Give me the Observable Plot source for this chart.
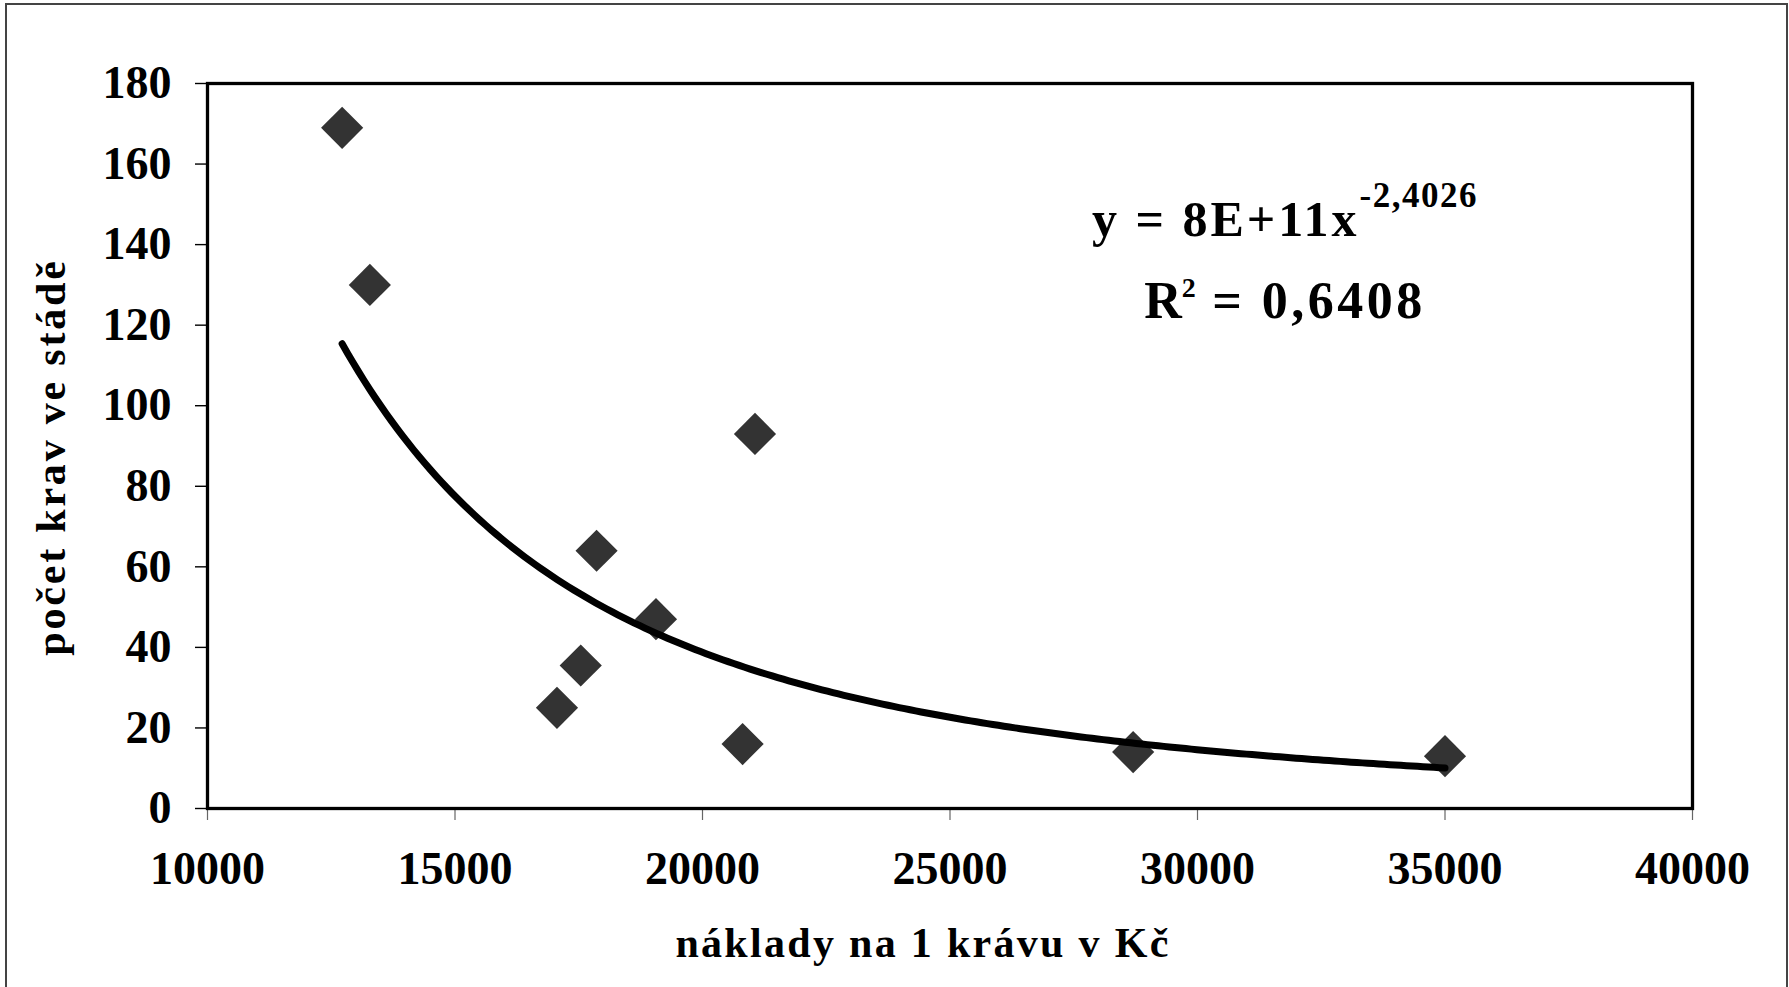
<!DOCTYPE html>
<html>
<head>
<meta charset="utf-8">
<script src="https://cdn.jsdelivr.net/npm/d3@7"></script>
<script src="https://cdn.jsdelivr.net/npm/@observablehq/plot@0.6"></script>
<style>
  html, body { margin: 0; padding: 0; background: #fff; overflow: hidden; }
  #chart svg { display: block; }
</style>
</head>
<body>
<div id="chart"></div>
<script>
// ---- data ----
const costs = [12720, 13280, 21060, 17860, 19060, 17540, 17060, 20810, 28700, 35000];
const herdSize = [169, 130, 93, 64, 47, 35.5, 25, 16, 14, 13];
const xTicks = [10000, 15000, 20000, 25000, 30000, 35000, 40000];
const yTicks = [0, 20, 40, 60, 80, 100, 120, 140, 160, 180];
const xTitle = "náklady na 1 krávu v Kč";
const yTitle = "počet krav ve stádě";
const eqMain = "y = 8E+11x";
const eqExp = "-2,4026";
const r2Base = "R";
const r2Exp = "2";
const r2Value = " = 0,6408";

// ---- derived ----
const points = costs.map((x, i) => ({x, y: herdSize[i]}));
// power trendline y = A x^b, least squares on logs (as the spreadsheet does)
const lx = costs.map(Math.log), ly = herdSize.map(Math.log);
const mx = d3.mean(lx), my = d3.mean(ly);
const b = d3.sum(lx, (v, i) => (v - mx) * (ly[i] - my)) / d3.sum(lx, v => (v - mx) ** 2);
const a = my - b * mx;
const [xMin, xMax] = d3.extent(costs);
const trend = d3.range(0, 201).map(k => {
  const x = xMin + (xMax - xMin) * k / 200;
  return {x, y: Math.exp(a + b * Math.log(x))};
});

const W = 1789, H = 987;
const font = "'Liberation Serif', 'Times New Roman', serif";

const svg = Plot.plot({
  width: W,
  height: H,
  marginLeft: 207,
  marginRight: 97,
  marginTop: 83,
  marginBottom: 179,
  style: {fontFamily: font, fontSize: "46px", fontWeight: "bold", background: "#fff", color: "#000", overflow: "visible"},
  x: {domain: [10000, 40000], label: null},
  y: {domain: [0, 180], label: null},
  marks: [
    Plot.axisX({ticks: xTicks, tickSize: 12, tickPadding: 31, tickFormat: d => String(d), stroke: "#666", strokeWidth: 1.2, fill: "#000", label: null}),
    Plot.axisY({ticks: yTicks, tickSize: 12, tickPadding: 24, tickFormat: d => String(d), stroke: "#000", strokeWidth: 1.4, fill: "#000", label: null}),
    Plot.dot(points, {x: "x", y: "y", symbol: "diamond2", r: 19, fill: "#333333", stroke: "none"}),
    Plot.line(trend, {x: "x", y: "y", stroke: "#000", strokeWidth: 7, strokeLinejoin: "round", strokeLinecap: "round"}),
    Plot.frame({stroke: "#000", strokeWidth: 3.3})
  ]
});

const s = d3.select(svg);
// outer chart-area border
s.insert("rect", ":first-child")
  .attr("x", 6).attr("y", 4).attr("width", 1781).attr("height", 1010)
  .attr("fill", "#fff").attr("stroke", "#444").attr("stroke-width", 2);

// axis titles
s.append("text")
  .attr("x", 923).attr("y", 957)
  .attr("text-anchor", "middle")
  .attr("font-family", font).attr("font-weight", "bold")
  .attr("letter-spacing", 2.3)
  .style("font-size", "42px")
  .text(xTitle);

s.append("text")
  .attr("transform", "translate(65,457) rotate(-90)")
  .attr("text-anchor", "middle")
  .attr("font-family", font).attr("font-weight", "bold")
  .attr("letter-spacing", 2.8)
  .style("font-size", "42px")
  .text(yTitle);

// trendline equation
const eq = s.append("text")
  .attr("x", 1285).attr("y", 236)
  .attr("text-anchor", "middle")
  .attr("font-family", font).attr("font-weight", "bold");
eq.append("tspan").style("font-size", "50px").attr("letter-spacing", 3).text(eqMain);
eq.append("tspan").style("font-size", "35px").attr("letter-spacing", 1.5).attr("dy", -29).text(eqExp);

const r2 = s.append("text")
  .attr("x", 1285).attr("y", 318)
  .attr("text-anchor", "middle")
  .attr("font-family", font).attr("font-weight", "bold");
r2.append("tspan").style("font-size", "52px").text(r2Base);
r2.append("tspan").style("font-size", "28px").attr("dy", -21).text(r2Exp);
r2.append("tspan").style("font-size", "52px").attr("letter-spacing", 3.5).attr("dy", 21).text(r2Value);

document.getElementById("chart").appendChild(svg);
</script>
</body>
</html>
